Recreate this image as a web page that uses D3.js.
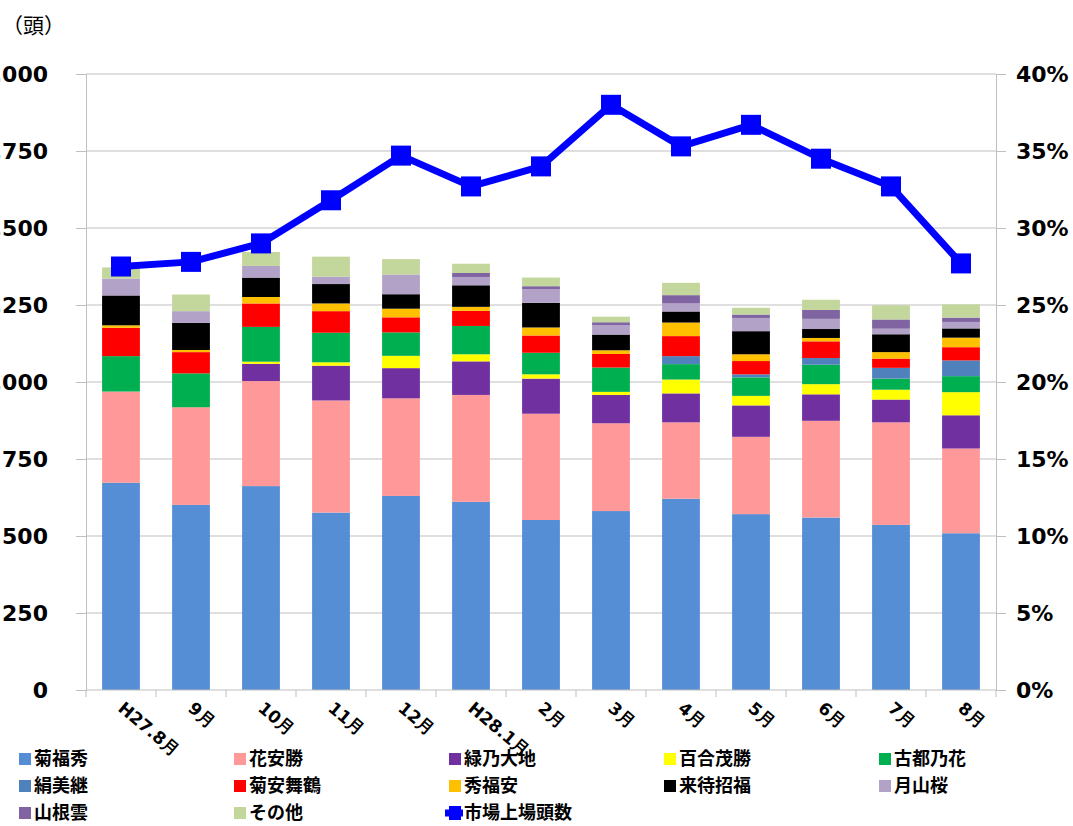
<!DOCTYPE html>
<html>
<head>
<meta charset="utf-8">
<script src="https://cdn.jsdelivr.net/npm/d3@7"></script>
<style>
	body { margin: 0; background: #fff; }
	svg { display: block; }
</style>
</head>
<body>
<div id="chart"></div>
<script>
//Categories (months)
let months = ["H27.8月", "9月", "10月", "11月", "12月", "H28.1月", "2月", "3月", "4月", "5月", "6月", "7月", "8月"];

//Head counts per breed line (stack order, bottom to top)
let kikufukuhide   = [673, 601, 662, 576, 630, 611, 552, 581, 621, 571, 560, 536, 509];
let hanayasukatsu  = [296, 317, 341, 364, 317, 347, 345, 285, 248, 251, 314, 333, 275];
let midorinodaichi = [0, 0, 56, 113, 98, 109, 114, 92, 94, 102, 86, 74, 108];
let yurishigekatsu = [0, 0, 7, 11, 40, 23, 14, 10, 45, 31, 33, 32, 75];
let kotonohana     = [115, 110, 113, 96, 76, 92, 70, 79, 50, 60, 63, 36, 52];
let kinumitsugu    = [0, 0, 0, 0, 0, 0, 0, 0, 26, 10, 22, 35, 51];
let kikuyasumaizuru = [92, 69, 76, 70, 49, 49, 56, 44, 65, 43, 54, 30, 43];
let hidefukuyasu   = [8, 7, 21, 25, 28, 13, 26, 12, 44, 22, 11, 21, 31];
let kitaishofuku   = [97, 88, 63, 63, 47, 70, 80, 51, 36, 75, 29, 58, 30];
let gassanzakura   = [55, 38, 38, 24, 64, 27, 44, 31, 26, 43, 33, 18, 21];
let yamanegumo     = [0, 0, 0, 0, 0, 13, 10, 9, 27, 11, 29, 30, 14];
let sonota         = [36, 54, 45, 65, 50, 30, 28, 18, 40, 22, 33, 46, 43];

//Share of market listings (%)
let marketShare = [27.5, 27.8, 29.0, 31.8, 34.7, 32.7, 34.0, 38.0, 35.3, 36.7, 34.5, 32.7, 27.7];

//Tick labels
let countTicks = [0, 250, 500, 750, 1000, 1250, 1500, 1750, 2000];
let pctTicks = [0, 5, 10, 15, 20, 25, 30, 35, 40];

let seriesNames = ["菊福秀", "花安勝", "緑乃大地", "百合茂勝", "古都乃花", "絹美継", "菊安舞鶴", "秀福安", "来待招福", "月山桜", "山根雲", "その他"];
let seriesValues = [kikufukuhide, hanayasukatsu, midorinodaichi, yurishigekatsu, kotonohana, kinumitsugu,
	kikuyasumaizuru, hidefukuyasu, kitaishofuku, gassanzakura, yamanegumo, sonota];
let seriesColors = ["#558ED5", "#FF9999", "#7030A0", "#FFFF00", "#00B050", "#4F81BD",
	"#FF0000", "#FFC000", "#000000", "#B3A2C7", "#8064A2", "#C3D69B"];
let lineName = "市場上場頭数";

//Dimensions
let width = 1073;
let height = 826;
let plotLeft = 86;
let plotRight = 996;
let plotTop = 74;
let plotBottom = 690;

let svg = d3.select("#chart").append("svg")
	.attr("width", width)
	.attr("height", height);

//Build table for stacking
let table = months.map(function(m, i){
	let row = {month: m};
	seriesNames.forEach(function(name, s){ row[name] = seriesValues[s][i]; });
	return row;
});
let stacked = d3.stack().keys(seriesNames)(table);

//Scales
let x = d3.scaleBand()
	.domain(months)
	.range([plotLeft, plotRight])
	.paddingInner(0.46)
	.paddingOuter(0.23);

let band = d3.scaleBand().domain(months).range([plotLeft, plotRight]);

let yCount = d3.scaleLinear().domain([0, 2000]).range([plotBottom, plotTop]);
let yPct = d3.scaleLinear().domain([0, 40]).range([plotBottom, plotTop]);

//Gridlines
svg.append("g")
	.selectAll("line")
	.data(countTicks.filter(function(d){ return d > 0; }))
	.enter()
		.append("line")
			.attr("x1", plotLeft)
			.attr("x2", plotRight)
			.attr("y1", function(d){ return yCount(d); })
			.attr("y2", function(d){ return yCount(d); })
			.attr("stroke", "#BFBFBF")
			.attr("stroke-width", 1);

//Left axis (labels run off the left edge, as in the source picture)
let leftAxis = svg.append("g")
	.attr("transform", "translate(" + plotLeft + ",0)")
	.call(d3.axisLeft(yCount).tickValues(countTicks).tickSize(10).tickPadding(28)
		.tickFormat(d3.format(",")));
leftAxis.select(".domain").attr("stroke", "#BFBFBF");
leftAxis.selectAll(".tick line").attr("stroke", "#BFBFBF");
leftAxis.selectAll("text")
	.attr("fill", "#000")
	.style("font-family", "DejaVu Sans")
	.style("font-weight", "bold")
	.style("font-size", "22px")
	.attr("dy", "0.36em");

//Right axis
let rightAxis = svg.append("g")
	.attr("transform", "translate(" + plotRight + ",0)")
	.call(d3.axisRight(yPct).tickValues(pctTicks).tickSize(10).tickPadding(10)
		.tickFormat(function(d){ return d + "%"; }));
rightAxis.select(".domain").attr("stroke", "#BFBFBF");
rightAxis.selectAll(".tick line").attr("stroke", "#BFBFBF");
rightAxis.selectAll("text")
	.attr("fill", "#000")
	.style("font-family", "DejaVu Sans")
	.style("font-weight", "bold")
	.style("font-size", "22px")
	.attr("dy", "0.36em");

//Bars
svg.append("g")
	.selectAll("g")
	.data(stacked)
	.enter()
		.append("g")
			.attr("fill", function(d, i){ return seriesColors[i]; })
		.selectAll("rect")
		.data(function(d){ return d; })
		.enter()
			.append("rect")
				.attr("x", function(d){ return x(d.data.month); })
				.attr("width", x.bandwidth())
				.attr("y", function(d){ return yCount(d[1]); })
				.attr("height", function(d){ return yCount(d[0]) - yCount(d[1]); });

//Bottom axis
let bottomAxis = svg.append("g")
	.attr("transform", "translate(0," + plotBottom + ")");
bottomAxis.append("line")
	.attr("x1", plotLeft).attr("x2", plotRight)
	.attr("y1", 0).attr("y2", 0)
	.attr("stroke", "#BFBFBF");
bottomAxis.selectAll(".tickmark")
	.data(months.concat(["end"]))
	.enter()
		.append("line")
			.attr("class", "tickmark")
			.attr("x1", function(d, i){ return plotLeft + i * band.bandwidth(); })
			.attr("x2", function(d, i){ return plotLeft + i * band.bandwidth(); })
			.attr("y1", 0).attr("y2", 7)
			.attr("stroke", "#BFBFBF");
bottomAxis.selectAll("text")
	.data(months)
	.enter()
		.append("text")
			.attr("transform", function(d){
				return "translate(" + (x(d) + x.bandwidth() / 2 - 4) + ",20) rotate(40)";
			})
			.attr("text-anchor", "start")
			.style("font-family", "DejaVu Sans")
			.style("font-weight", "bold")
			.style("font-size", "17px")
			.text(function(d){ return d; });

//Market share line
let line = d3.line()
	.x(function(d, i){ return x(months[i]) + x.bandwidth() / 2; })
	.y(function(d){ return yPct(d); });

svg.append("path")
	.datum(marketShare)
	.attr("d", line)
	.attr("fill", "none")
	.attr("stroke", "#0000FF")
	.attr("stroke-width", 7)
	.attr("stroke-linejoin", "round");

svg.append("g")
	.selectAll("rect")
	.data(marketShare)
	.enter()
		.append("rect")
			.attr("x", function(d, i){ return x(months[i]) + x.bandwidth() / 2 - 10; })
			.attr("y", function(d){ return yPct(d) - 10; })
			.attr("width", 20)
			.attr("height", 20)
			.attr("fill", "#0000FF");

//Unit label
svg.append("text")
	.attr("x", 2)
	.attr("y", 33)
	.style("font-family", "Noto Sans CJK JP")
	.style("font-size", "21px")
	.text("（頭）");

//Legend
let legendItems = seriesNames.map(function(n, i){ return {name: n, color: seriesColors[i], line: false}; });
legendItems.push({name: lineName, color: "#0000FF", line: true});

let legend = svg.append("g")
	.selectAll("g")
	.data(legendItems)
	.enter()
		.append("g")
			.attr("transform", function(d, i){
				let col = i % 5;
				let row = Math.floor(i / 5);
				return "translate(" + (19 + col * 215) + "," + (759 + row * 27) + ")";
			});

legend.filter(function(d){ return !d.line; })
	.append("rect")
		.attr("x", 0).attr("y", -6)
		.attr("width", 12).attr("height", 12)
		.attr("fill", function(d){ return d.color; });

legend.filter(function(d){ return d.line; })
	.append("line")
		.attr("x1", -4).attr("x2", 14)
		.attr("y1", 0).attr("y2", 0)
		.attr("stroke", "#0000FF")
		.attr("stroke-width", 7);
legend.filter(function(d){ return d.line; })
	.append("rect")
		.attr("x", 0).attr("y", -7)
		.attr("width", 12).attr("height", 14)
		.attr("fill", "#0000FF");

legend.append("text")
	.attr("x", 15)
	.attr("y", 0)
	.attr("dy", "0.35em")
	.style("font-family", "Noto Sans CJK JP")
	.style("font-weight", "bold")
	.style("font-size", "18px")
	.text(function(d){ return d.name; });
</script>
</body>
</html>
